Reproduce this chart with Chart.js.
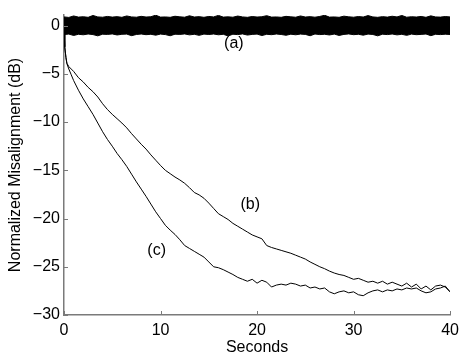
<!DOCTYPE html>
<html>
<head>
<meta charset="utf-8">
<script src="https://cdn.jsdelivr.net/npm/chart.js@4"></script>
<style>
html, body { margin: 0; padding: 0; background: #fff; }
#chart { display: block; }
</style>
</head>
<body>
<canvas id="chart" width="465" height="354"></canvas>
<script>
// (a): noisy misalignment around 0 dB, kept as its upper / lower envelope
const bandTimes = [
    0, 0.5, 1, 1.5, 2, 2.5, 3, 3.5, 4, 4.5, 5, 5.5, 6, 6.5, 7, 7.5, 8, 8.5, 9, 9.5,
    10, 10.5, 11, 11.5, 12, 12.5, 13, 13.5, 14, 14.5, 15, 15.5, 16, 16.5, 17, 17.5, 18, 18.5, 19, 19.5,
    20, 20.5, 21, 21.5, 22, 22.5, 23, 23.5, 24, 24.5, 25, 25.5, 26, 26.5, 27, 27.5, 28, 28.5, 29, 29.5,
    30, 30.5, 31, 31.5, 32, 32.5, 33, 33.5, 34, 34.5, 35, 35.5, 36, 36.5, 37, 37.5, 38, 38.5, 39, 39.5, 40
];
const bandUpper = [
    0.9, 0.85, 1.0, 0.88, 0.92, 0.86, 1.05, 0.9, 0.87, 0.95,
    0.88, 0.93, 0.86, 1.0, 0.9, 0.87, 0.96, 0.89, 0.92, 1.08,
    0.88, 0.9, 0.86, 0.97, 0.91, 0.87, 1.02, 0.89, 0.93, 0.86,
    0.95, 0.9, 1.06, 0.88, 0.91, 0.87, 0.99, 0.9, 0.86, 0.94,
    0.89, 0.92, 1.03, 0.88, 0.9, 0.86, 0.96, 0.91, 0.87, 1.0,
    0.89, 0.93, 0.87, 0.95, 1.07, 0.88, 0.9, 0.86, 0.98, 0.91,
    0.87, 0.94, 0.89, 1.04, 0.9, 0.86, 0.93, 0.88, 0.97, 0.9,
    1.05, 0.87, 0.92, 0.89, 0.95, 0.86, 1.01, 0.9, 0.88, 0.94, 0.9
];
const bandLower = [
    -0.92, -0.88, -1.02, -0.9, -0.95, -0.87, -0.93, -1.06, -0.89, -0.91,
    -0.86, -0.97, -0.9, -0.88, -1.04, -0.92, -0.87, -0.94, -0.9, -0.99,
    -0.88, -0.93, -1.05, -0.89, -0.91, -0.86, -0.96, -0.9, -1.01, -0.88,
    -0.92, -0.87, -0.95, -0.9, -1.07, -0.89, -0.93, -0.86, -0.98, -0.91,
    -0.88, -1.03, -0.9, -0.94, -0.87, -0.92, -1.0, -0.89, -0.95, -0.88,
    -0.91, -1.05, -0.87, -0.93, -0.9, -0.97, -0.88, -1.02, -0.91, -0.86,
    -0.94, -0.9, -0.99, -0.88, -0.92, -1.06, -0.89, -0.93, -0.87, -0.96,
    -0.9, -1.01, -0.88, -0.94, -0.91, -0.87, -1.04, -0.9, -0.93, -0.89, -0.92
];

// (b) and (c): convergence curves
const curveTimes = [
    0, 0.05, 0.1, 0.2, 0.3, 0.5, 0.75, 1,
    1.5, 2, 2.5, 3, 3.5, 4, 4.5, 5, 5.5, 6, 6.5, 7, 7.5, 8, 8.5, 9, 9.5, 10,
    10.5, 11, 11.5, 12, 12.5, 13, 13.5, 14, 14.5, 15, 15.5, 16, 16.5, 17, 17.5, 18, 18.5, 19, 19.5, 20,
    20.5, 21, 21.5, 22, 22.5, 23, 23.5, 24, 24.5, 25, 25.5, 26, 26.5, 27, 27.5, 28, 28.5, 29, 29.5, 30,
    30.5, 31, 31.5, 32, 32.5, 33, 33.5, 34, 34.5, 35, 35.5, 36, 36.5, 37, 37.5, 38, 38.5, 39, 39.5, 40
];
const curveB = [
    0, -1.2, -2.2, -3.3, -3.9, -4.25, -4.5, -4.75,
    -5.4, -5.85, -6.4, -6.85, -7.4, -8.1, -8.7, -9.2, -9.65, -10.1, -10.6, -11.2, -11.75, -12.3, -12.8, -13.4, -13.95, -14.5,
    -15.0, -15.35, -15.7, -16.0, -16.35, -16.8, -17.3, -17.55, -17.9, -18.4, -18.95, -19.5, -19.8, -20.1, -20.5, -20.8, -21.1, -21.4, -21.7, -21.9,
    -22.1, -22.8, -23.0, -23.15, -23.3, -23.45, -23.6, -23.8, -24.0, -24.2, -24.5, -24.75, -25.0, -25.2, -25.45, -25.65, -25.8, -25.9, -26.1, -26.3,
    -26.2, -26.4, -26.6, -26.5, -26.7, -26.5, -26.8, -26.6, -26.8, -27.0, -26.7, -27.1, -26.8, -27.3, -27.0, -27.4, -27.0, -26.9, -27.1, -27.6
];
const curveC = [
    0, -1.2, -2.2, -3.3, -3.95, -4.5, -5.1, -5.7,
    -6.7, -7.6, -8.4, -9.2, -10.1, -11.0, -11.8, -12.5, -13.25, -13.9, -14.6, -15.4, -16.2, -16.95, -17.7, -18.5, -19.3, -20.0,
    -20.7, -21.2, -21.65, -22.2, -22.8, -23.1, -23.4, -23.7, -24.0, -24.5, -25.0, -25.1, -25.3, -25.55, -25.8, -26.1, -26.3, -26.5, -26.3, -26.7,
    -26.4, -26.6, -27.1, -26.9, -26.8, -26.9, -26.7, -26.8, -27.0, -26.9, -27.2, -27.1, -27.3, -27.2, -27.6, -27.8, -27.6, -27.5, -27.7, -27.6,
    -27.9, -28.0, -27.7, -27.5, -27.4, -27.6, -27.4, -27.5, -27.3, -27.4, -27.2, -27.3, -27.2, -27.5, -27.7, -27.6, -27.3, -27.2, -27.0, -27.6
];

const xTicks = [0, 10, 20, 30, 40];
const yTicks = [0, -5, -10, -15, -20, -25, -30];

// curve tags, placed in data units
const tagText = ['(a)', '(b)', '(c)'];
const tagX = [17.6, 19.3, 9.6];
const tagY = [-1.9, -18.6, -23.3];

const FONT = "'Liberation Sans', Arial, Helvetica, sans-serif";
const AXIS_COLOR = '#7a7a7a';

function pts(xs, ys) {
    return xs.map((x, i) => ({ x: x, y: ys[i] }));
}
function minus(v) {
    return String(v).replace('-', '\u2212');
}

const lineStyle = {
    borderColor: '#000',
    borderWidth: 1,
    pointRadius: 0,
    tension: 0,
    fill: false
};

// inward tick marks plus the (a)/(b)/(c) tags
const extras = {
    id: 'extras',
    afterDraw(chart) {
        const ctx = chart.ctx;
        const xs = chart.scales.x, ys = chart.scales.y;
        const area = chart.chartArea;
        ctx.save();
        ctx.strokeStyle = AXIS_COLOR;
        ctx.lineWidth = 1;
        ctx.beginPath();
        xTicks.forEach(v => {
            const px = Math.round(xs.getPixelForValue(v)) + 0.5;
            ctx.moveTo(px, area.bottom);
            ctx.lineTo(px, area.bottom - 4);
        });
        yTicks.forEach(v => {
            const py = Math.round(ys.getPixelForValue(v)) + 0.5;
            ctx.moveTo(area.left, py);
            ctx.lineTo(area.left + 4, py);
        });
        ctx.stroke();

        ctx.fillStyle = '#000';
        ctx.font = '16px ' + FONT;
        ctx.textAlign = 'center';
        ctx.textBaseline = 'middle';
        tagText.forEach((t, i) => {
            ctx.fillText(t, xs.getPixelForValue(tagX[i]), ys.getPixelForValue(tagY[i]));
        });
        ctx.restore();
    }
};

new Chart(document.getElementById('chart'), {
    type: 'line',
    data: {
        datasets: [
            { data: pts(bandTimes, bandUpper), borderColor: '#000', borderWidth: 1, pointRadius: 0, backgroundColor: '#000', fill: '+1' },
            { data: pts(bandTimes, bandLower), borderColor: '#000', borderWidth: 1, pointRadius: 0, fill: false },
            Object.assign({ data: pts(curveTimes, curveB) }, lineStyle),
            Object.assign({ data: pts(curveTimes, curveC) }, lineStyle)
        ]
    },
    options: {
        responsive: false,
        animation: false,
        devicePixelRatio: 1,
        layout: { padding: { left: 0, top: 15, right: 10, bottom: 0 } },
        plugins: {
            legend: { display: false },
            tooltip: { enabled: false }
        },
        scales: {
            x: {
                type: 'linear',
                min: 0,
                max: 40,
                afterBuildTicks: s => { s.ticks = xTicks.map(v => ({ value: v })); },
                afterFit: s => { s.height = 39; },
                grid: { display: false, drawTicks: false },
                border: { display: true, color: AXIS_COLOR, width: 1.5 },
                ticks: {
                    color: '#000',
                    padding: 6,
                    maxRotation: 0,
                    font: { family: FONT, size: 16 },
                    callback: v => minus(v)
                },
                title: {
                    display: true,
                    text: 'Seconds',
                    color: '#000',
                    font: { family: FONT, size: 16 },
                    padding: { top: 0, bottom: -3 }
                }
            },
            y: {
                min: -30,
                max: 1.1,
                afterBuildTicks: s => { s.ticks = yTicks.map(v => ({ value: v })); },
                afterFit: s => { s.width = 64; },
                grid: { display: false, drawTicks: false },
                border: { display: true, color: AXIS_COLOR, width: 1.5 },
                ticks: {
                    color: '#000',
                    padding: 4,
                    font: { family: FONT, size: 16 },
                    callback: v => minus(v)
                },
                title: {
                    display: true,
                    text: 'Normalized Misalignment (dB)',
                    color: '#000',
                    font: { family: FONT, size: 16 },
                    padding: { top: 6, bottom: 0 }
                }
            }
        }
    },
    plugins: [extras]
});
</script>
</body>
</html>
